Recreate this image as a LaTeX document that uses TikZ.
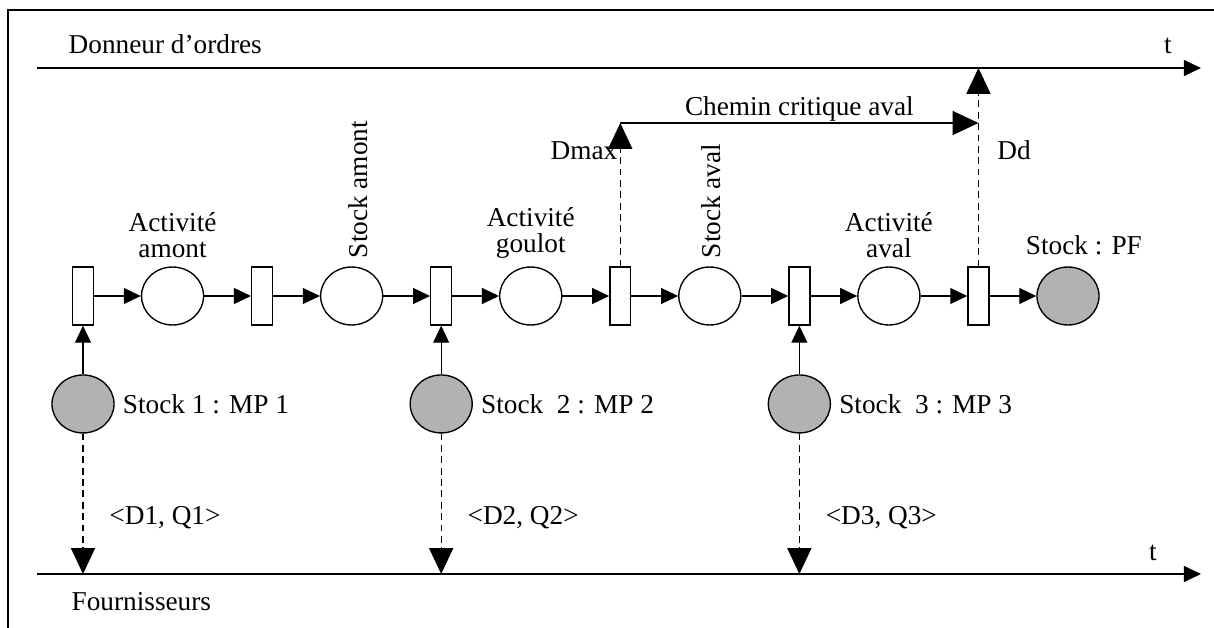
\documentclass[tikz,border=0pt]{standalone}
\usepackage{fontspec}
\setmainfont{Liberation Serif}
\usetikzlibrary{positioning, arrows.meta, shapes.geometric}

\tikzset{
  trans/.style={draw, rectangle, fill=white, minimum width=9.2pt, minimum height=25.5pt, inner sep=0pt},
  place/.style={draw, ellipse, minimum width=27.3pt, minimum height=25.5pt, inner sep=0pt},
  stock/.style={place, fill=gray!60},
  flow/.style={-{Triangle[length=7.5pt,width=7pt]}},
  bigtip/.style={-{Triangle[length=11.4pt,width=10.6pt]}},
  dashline/.style={dash pattern=on 3pt off 2pt}
}

\begin{document}
\begin{tikzpicture}[x=0.44pt, y=-0.44pt, line width=0.6pt, node distance=39.4pt, font=\fontsize{12}{11.5}\selectfont]
        \useasboundingbox (0,0) rectangle (1214,628);
        \draw (8,640) -- (8,10) -- (1230,10);
        \coordinate (top0) at (37,68);
        \coordinate (top1) at (1201,68);
        \coordinate (bot0) at (37,574);
        \coordinate (bot1) at (1201,574);
        \coordinate (ylev) at (0,123);
        \draw[flow] (top0) -- (top1);
        \draw[flow] (bot0) -- (bot1);
        \node[anchor=base west, inner sep=0pt] (donneur) at (68,53) {Donneur d'ordres};
        \node[anchor=base, inner sep=0pt] (ttop) at (1168,53) {t};
        \node[anchor=base west, inner sep=0pt] (fourn) at (71,610) {Fournisseurs};
        \node[anchor=base, inner sep=0pt] (tbot) at (1153,560) {t};
        \node[trans] (t1) at (83,296) {};
        \node[place, right of=t1] (p1) {};
        \node[trans, right of=p1] (t2) {};
        \node[place, right of=t2] (p2) {};
        \node[trans, right of=p2] (t3) {};
        \node[place, right of=t3] (p3) {};
        \node[trans, right of=p3] (t4) {};
        \node[place, right of=t4] (p4) {};
        \node[trans, right of=p4] (t5) {};
        \node[place, right of=t5] (p5) {};
        \node[trans, right of=p5] (t6) {};
        \node[stock, right of=t6] (pf) {};
        \node[stock, below of=t1, node distance=47.5pt] (s1) {};
        \node[stock, below of=t3, node distance=47.5pt] (s2) {};
        \node[stock, below of=t5, node distance=47.5pt] (s3) {};
        \node[anchor=south, align=center] (la1) at (p1.north) {Activité\\amont};
        \node[anchor=west, rotate=90] (la2) at ([xshift=3pt]p2.north) {Stock amont};
        \node[anchor=south, align=center] (la3) at (p3.north) {Activité\\goulot};
        \node[anchor=west, rotate=90] (la4) at ([xshift=0.5pt]p4.north) {Stock aval};
        \node[anchor=south, align=center] (la5) at (p5.north) {Activité\\aval};
        \node[anchor=south] (lpf) at ([xshift=7pt,yshift=1.5pt]pf.north) {Stock : PF};
        \node[anchor=west] (ls1) at (s1.east) {Stock 1 : MP 1};
        \node[anchor=west] (ls2) at (s2.east) {Stock\ \ 2 : MP 2};
        \node[anchor=west] (ls3) at (s3.east) {Stock\ \ 3 : MP 3};
        \draw[flow] (t1) -- (p1);
        \draw[flow] (p1) -- (t2);
        \draw[flow] (t2) -- (p2);
        \draw[flow] (p2) -- (t3);
        \draw[flow] (t3) -- (p3);
        \draw[flow] (p3) -- (t4);
        \draw[flow] (t4) -- (p4);
        \draw[flow] (p4) -- (t5);
        \draw[flow] (t5) -- (p5);
        \draw[flow] (p5) -- (t6);
        \draw[flow] (t6) -- (pf);
        \draw[flow] (s1) -- (t1);
        \draw[flow] (s2) -- (t3);
        \draw[flow] (s3) -- (t5);
        \coordinate (f1) at (s1 |- bot0);
        \coordinate (f2) at (s2 |- bot0);
        \coordinate (f3) at (s3 |- bot0);
        \draw[dashline, bigtip] (s1) -- (f1) node[pos=0.6, right=8pt] (q1) {<D1, Q1>};
        \draw[dashline, bigtip] (s2) -- (f2) node[pos=0.6, right=8pt] (q2) {<D2, Q2>};
        \draw[dashline, bigtip] (s3) -- (f3) node[pos=0.6, right=8pt] (q3) {<D3, Q3>};
        \coordinate (dmax) at (t4 |- ylev);
        \coordinate (dd) at (t6 |- ylev);
        \coordinate (ddtop) at (t6 |- top0);
        \draw[dashline, bigtip] (t4) -- (dmax);
        \draw[bigtip] (dmax) -- (dd) node[midway, above, inner sep=0.5pt] (chemin) {Chemin critique aval};
        \draw[dashline, bigtip] (t6) -- (ddtop);
        \node[anchor=east, inner sep=1pt] (ldmax) at ([yshift=-12pt]dmax) {Dmax};
        \node[anchor=west, inner sep=0pt] (ldd) at ([xshift=8pt,yshift=-12pt]dd) {Dd};
\end{tikzpicture}
\end{document}
